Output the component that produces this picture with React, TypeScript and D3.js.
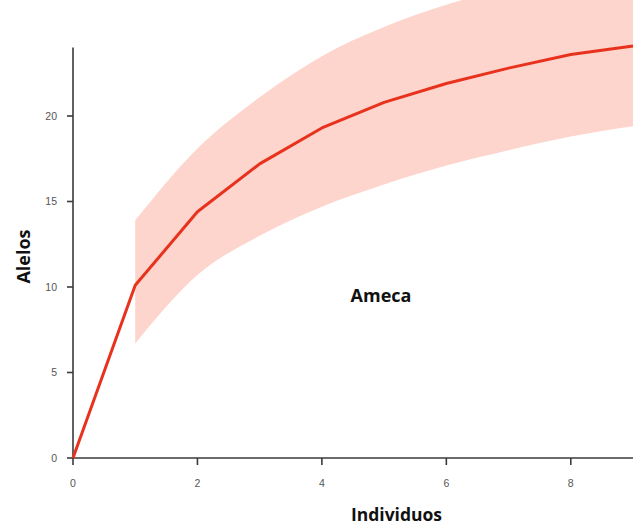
import React from "react";
import * as d3 from "d3";

// Rarefaction curve: expected alleles vs. number of individuals
const individuals = [0, 1, 2, 3, 4, 5, 6, 7, 8, 9];
const alleles = [0, 10.1, 14.4, 17.2, 19.3, 20.8, 21.9, 22.8, 23.6, 24.1];
const upperCI = [null, 13.9, 18.1, 21.1, 23.5, 25.2, 26.5, 27.5, 28.3, 29.0];
const lowerCI = [null, 6.7, 10.7, 13.0, 14.7, 16.0, 17.1, 18.0, 18.8, 19.4];
const xTicks = [0, 2, 4, 6, 8];
const yTicks = [0, 5, 10, 15, 20];

const W = 641;
const H = 531;

export default function App() {
  const x = d3.scaleLinear().domain([0, 9]).range([73, 633]);
  const y = d3.scaleLinear().domain([0, 24]).range([458, 47.6]);

  const pts = individuals.map((d, i) => ({ x: d, m: alleles[i], lo: lowerCI[i], hi: upperCI[i] }));
  const bandPts = pts.filter((p) => p.lo !== null && p.hi !== null);

  const area = d3
    .area<any>()
    .x((d) => x(d.x))
    .y0((d) => y(d.lo))
    .y1((d) => y(d.hi))
    .curve(d3.curveMonotoneX);

  const line = d3
    .line<any>()
    .x((d) => x(d.x))
    .y((d) => y(d.m));

  const tickFont = "Liberation Sans, Arial, sans-serif";
  const labelFont = "'Open Sans', Lato, sans-serif";
  const axisColor = "#3a3a3a";

  return (
    <svg
      width={W}
      height={H}
      style={{ position: "absolute", left: 0, top: 0, background: "#fff" }}
    >
      <path d={area(bandPts) || ""} fill="#fdd5cc" />

      {/* axes */}
      <line x1={x(0)} x2={x(0)} y1={y(24)} y2={y(0)} stroke={axisColor} strokeWidth={1.6} />
      <line x1={x(0)} x2={x(9)} y1={y(0)} y2={y(0)} stroke={axisColor} strokeWidth={1.6} />
      {yTicks.map((t) => (
        <g key={"y" + t}>
          <line x1={x(0) - 6} x2={x(0)} y1={y(t)} y2={y(t)} stroke={axisColor} strokeWidth={1.6} />
          <text
            x={x(0) - 16}
            y={y(t)}
            dy="0.35em"
            textAnchor="end"
            fontFamily={tickFont}
            fontSize={10.5}
            fill="#555"
          >
            {t}
          </text>
        </g>
      ))}
      {xTicks.map((t) => (
        <g key={"x" + t}>
          <line x1={x(t)} x2={x(t)} y1={y(0)} y2={y(0) + 7} stroke={axisColor} strokeWidth={1.6} />
          <text
            x={x(t)}
            y={y(0) + 29}
            textAnchor="middle"
            fontFamily={tickFont}
            fontSize={10.5}
            fill="#555"
          >
            {t}
          </text>
        </g>
      ))}

      <path d={line(pts) || ""} fill="none" stroke="#e8321e" strokeWidth={3} strokeLinejoin="round" />

      <text
        transform={`translate(30,256.5) rotate(-90)`}
        textAnchor="middle"
        fontFamily={labelFont}
        fontWeight="bold"
        fontSize={18}
        fill="#111"
      >
        Alelos
      </text>
      <text
        x={396.5}
        y={521}
        textAnchor="middle"
        fontFamily={labelFont}
        fontWeight="bold"
        fontSize={17.5}
        fill="#111"
      >
        Individuos
      </text>
      <text
        x={381}
        y={302}
        textAnchor="middle"
        fontFamily={labelFont}
        fontWeight="bold"
        fontSize={18}
        fill="#111"
      >
        Ameca
      </text>
    </svg>
  );
}
